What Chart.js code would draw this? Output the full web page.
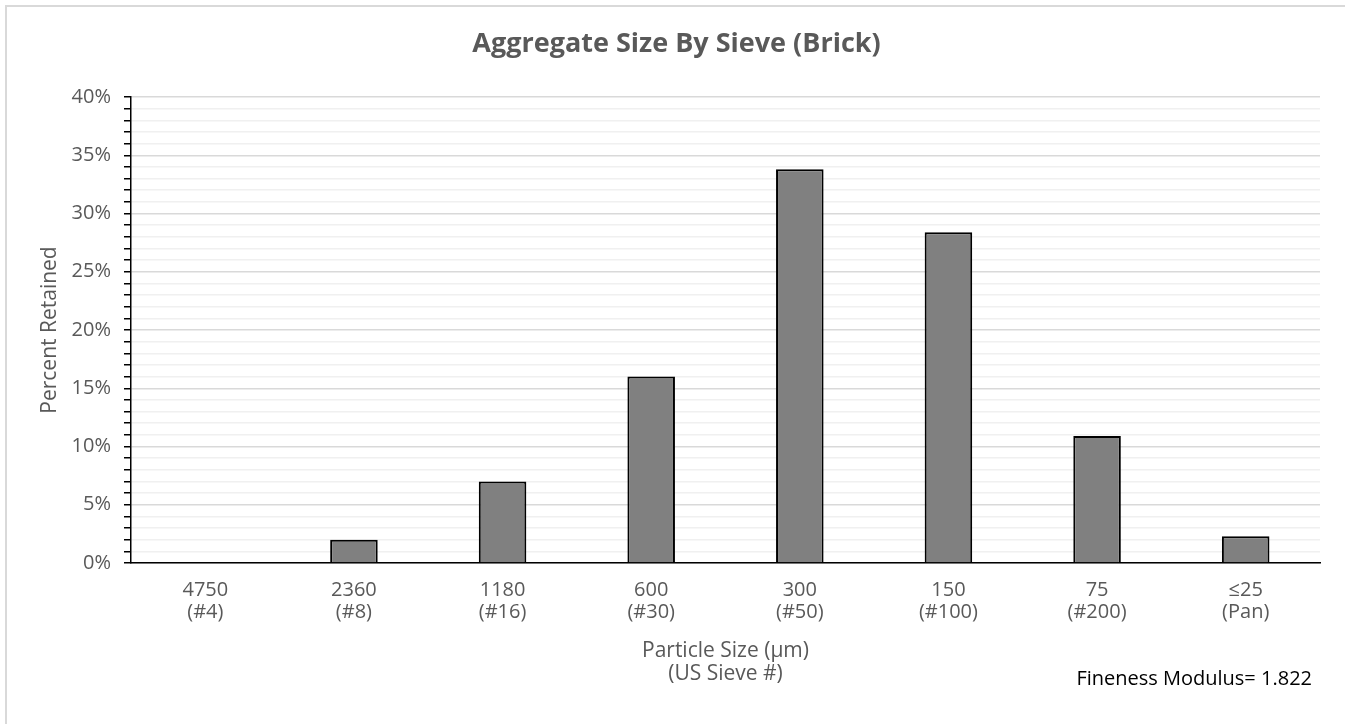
<!DOCTYPE html>
<html>
<head>
<meta charset="utf-8">
<script src="https://cdn.jsdelivr.net/npm/chart.js@4"></script>
<style>
  body { margin: 0; background: #fff; }
  #wrap { position: absolute; left: 0; top: 0; width: 1345px; height: 724px; }
  #frame { position: absolute; left: 5px; top: 5px; width: 1400px; height: 800px;
           border-left: 2px solid #d9d9d9; border-top: 2px solid #d9d9d9; }
</style>
</head>
<body>
<div id="frame"></div>
<div id="wrap"><canvas id="sieveChart"></canvas></div>
<script>
// Sieve data (brick aggregate)
const sizes = ["4750", "2360", "1180", "600", "300", "150", "75", "≤25"];
const sieves = ["(#4)", "(#8)", "(#16)", "(#30)", "(#50)", "(#100)", "(#200)", "(Pan)"];
const retained = [0, 2.0, 7.0, 16.0, 33.8, 28.4, 10.9, 2.3];
const finenessText = "Fineness Modulus= 1.822";

const font = "'Open Sans', sans-serif";
const grey = "#595959";

const labels = sizes.map((s, i) => [s, sieves[i]]);

// Text note under the plot, bottom right
const noteText = {
  id: "noteText",
  afterDraw(chart) {
    const ctx = chart.ctx;
    const area = chart.chartArea;
    ctx.save();
    ctx.font = "20px " + font;
    ctx.fillStyle = "#000";
    ctx.textAlign = "right";
    ctx.textBaseline = "middle";
    ctx.fillText(finenessText, area.right - 8, area.bottom + 116);
    ctx.restore();
  },
};

const ctx = document.getElementById("sieveChart").getContext("2d");
const sieveChart = new Chart(ctx, {
  type: "bar",
  data: {
    labels: labels,
    datasets: [
      {
        label: "Percent Retained",
        data: retained,
        backgroundColor: "#808080",
        borderColor: "#000",
        borderWidth: 2,
        categoryPercentage: 1,
        barPercentage: 0.32,
      },
    ],
  },
  options: {
    responsive: true,
    maintainAspectRatio: false,
    animation: false,
    layout: { padding: { top: 0, left: 33, right: 25, bottom: 0 } },
    plugins: {
      legend: { display: false },
      tooltip: { enabled: false },
      title: {
        display: true,
        text: "Aggregate Size By Sieve (Brick)",
        color: grey,
        font: { family: font, size: 27, weight: "bold" },
        padding: { top: 28, bottom: 36.6 },
      },
    },
    scales: {
      x: {
        grid: { display: false, drawTicks: false },
        border: { display: true, color: "#000", width: 1.5 },
        ticks: {
          color: grey,
          font: { family: font, size: 20, lineHeight: 1.1 },
          padding: 16,
          maxRotation: 0,
        },
        title: {
          display: true,
          text: ["Particle Size (µm)", "(US Sieve #)"],
          color: grey,
          font: { family: font, size: 21, lineHeight: 1.1 },
          padding: { top: 4, bottom: 38 },
        },
        afterFit(scale) {
          scale.height = 161;
        },
      },
      y: {
        min: 0,
        max: 40,
        grid: {
          color: (c) => (c.tick && c.tick.value % 5 === 0 ? "#d9d9d9" : "#f0f0f0"),
          lineWidth: 1.5,
          tickColor: "#000",
          tickLength: 7,
          tickWidth: 1.5,
        },
        border: { display: true, color: "#000", width: 1.5 },
        ticks: {
          stepSize: 1,
          autoSkip: false,
          color: grey,
          font: { family: font, size: 20 },
          padding: 13,
          callback: (v) => (v % 5 === 0 ? v + "%" : ""),
        },
        title: {
          display: true,
          text: "Percent Retained",
          color: grey,
          font: { family: font, size: 21 },
          padding: 4,
        },
        afterFit(scale) {
          scale.width = 98;
        },
      },
    },
  },
  plugins: [noteText],
});
</script>
</body>
</html>
